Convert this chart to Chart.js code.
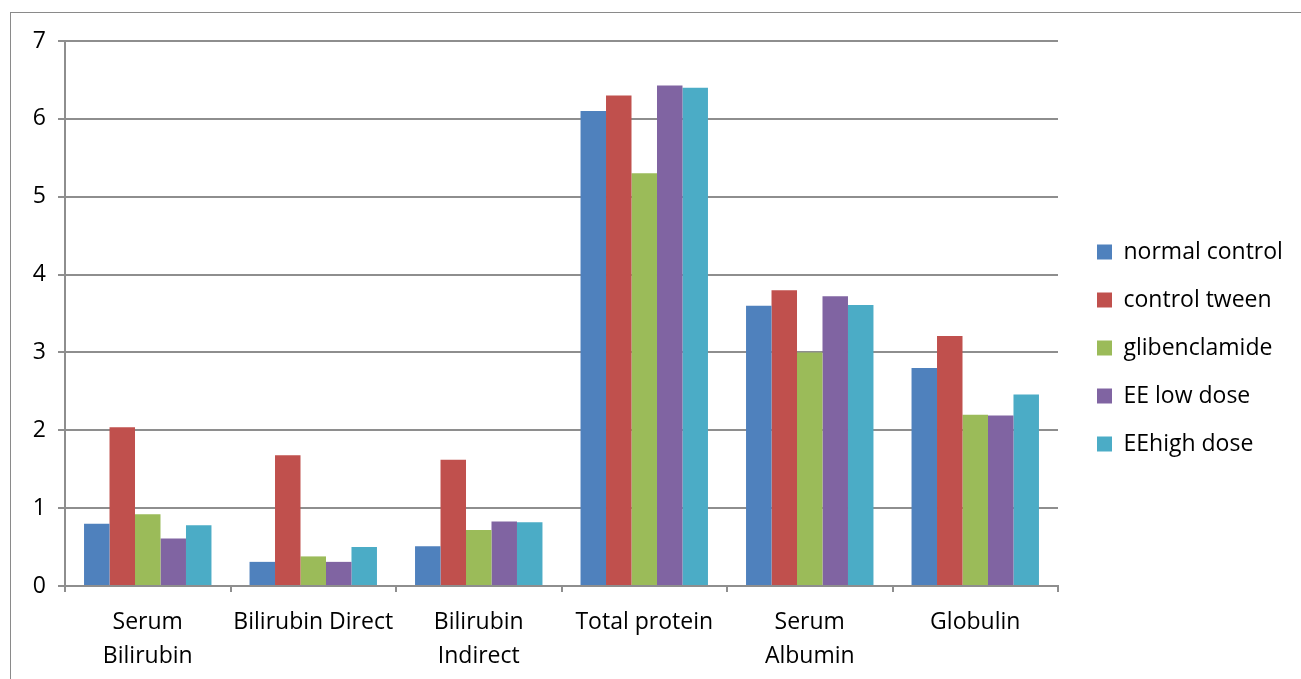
<!DOCTYPE html>
<html>
<head>
<meta charset="utf-8">
<script src="https://cdn.jsdelivr.net/npm/chart.js@4.4.1/dist/chart.umd.min.js"></script>
<style>
  body { margin: 0; background: #fff; overflow: hidden; }
  #frame { position: absolute; left: 10px; top: 12px; width: 1400px; height: 800px; border: 1px solid #8a8a8a; }
  #chart { position: absolute; left: 0; top: 0; }
</style>
</head>
<body>
<div id="frame"></div>
<canvas id="chart" width="1301" height="679"></canvas>
<script>
const categories = [
  ["Serum", "Bilirubin"],
  "Bilirubin Direct",
  ["Bilirubin", "Indirect"],
  "Total protein",
  ["Serum", "Albumin"],
  "Globulin"
];

const normalControl = [0.80, 0.31, 0.51, 6.10, 3.60, 2.80];
const controlTween  = [2.04, 1.68, 1.62, 6.30, 3.80, 3.21];
const glibenclamide = [0.92, 0.38, 0.72, 5.30, 3.00, 2.20];
const eeLowDose     = [0.61, 0.31, 0.83, 6.43, 3.72, 2.19];
const eeHighDose    = [0.78, 0.50, 0.82, 6.40, 3.61, 2.46];

const yTicks = [0, 1, 2, 3, 4, 5, 6, 7];

const gridColor = "#8e8e8e";
const font = { family: "'Open Sans', sans-serif", size: 23 };

// keep legend at fixed width, nudge its content like the original
const legendTweak = {
  id: "legendTweak",
  beforeInit(chart) {
    const lg = chart.legend;
    const fit = lg.fit.bind(lg);
    lg.fit = function () { fit(); this.width = 243; };
    const draw = lg.draw.bind(lg);
    lg.draw = function () {
      const c = this.ctx;
      c.save();
      c.translate(14, -12);
      draw();
      c.restore();
    };
  }
};

const ctx = document.getElementById("chart").getContext("2d");
new Chart(ctx, {
  type: "bar",
  data: {
    labels: categories,
    datasets: [
      { label: "normal control", data: normalControl, backgroundColor: "#4F81BD" },
      { label: "control tween", data: controlTween, backgroundColor: "#C0504D" },
      { label: "glibenclamide", data: glibenclamide, backgroundColor: "#9BBB59" },
      { label: "EE low dose", data: eeLowDose, backgroundColor: "#8064A2" },
      { label: "EEhigh dose", data: eeHighDose, backgroundColor: "#4BACC6" }
    ]
  },
  options: {
    responsive: false,
    animation: false,
    devicePixelRatio: 1,
    layout: { padding: { top: 41, left: 0, right: 0, bottom: 0 } },
    datasets: { bar: { barPercentage: 1, categoryPercentage: 0.77 } },
    plugins: {
      tooltip: { enabled: false },
      legend: {
        position: "right",
        labels: {
          color: "#000",
          font: font,
          boxWidth: 15,
          boxHeight: 15,
          padding: 25
        }
      }
    },
    scales: {
      x: {
        afterFit(scale) { scale.height = 93; },
        grid: {
          offset: true,
          drawOnChartArea: false,
          drawTicks: true,
          tickLength: 6,
          color: gridColor,
          lineWidth: 2
        },
        border: { color: gridColor, width: 2 },
        ticks: {
          color: "#000",
          font: { family: font.family, size: 23, lineHeight: 1.48 },
          padding: 13,
          maxRotation: 0,
          autoSkip: false
        }
      },
      y: {
        min: 0,
        max: 7,
        afterFit(scale) { scale.width = 65; },
        afterBuildTicks(scale) { scale.ticks = yTicks.map(v => ({ value: v })); },
        grid: { color: gridColor, tickLength: 7, lineWidth: 2 },
        border: { color: gridColor, width: 2 },
        ticks: { color: "#000", font: font, padding: 12 }
      }
    }
  },
  plugins: [legendTweak]
});
</script>
</body>
</html>
